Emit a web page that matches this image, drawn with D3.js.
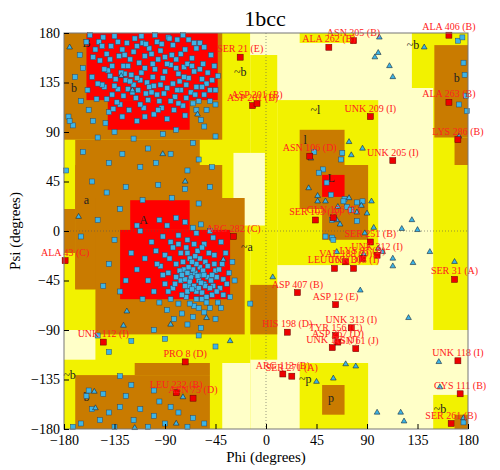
<!DOCTYPE html>
<html><head><meta charset="utf-8">
<script src="https://cdn.jsdelivr.net/npm/d3@7"></script>
<style>body{margin:0;background:#fff}text{font-family:"Liberation Serif","DejaVu Serif",serif}</style>
</head><body><div id="chart"></div>
<script>
const TITLE = '1bcc'
const TICKS = [-180, -135, -90, -45, 0, 45, 90, 135, 180]

// region rectangles [phi0, phi1, psi0, psi1], drawn in order
const generousRegions = [[-180,-14,-180,180],[-14,10,-117,160],[10,100,-31,119],[30,79,171,180],
  [130,180,130,180],[149,180,-90,130],[149,180,-180,-149],[30,91,-180,-120]]
const paleHoles = [[-29,-1,5,71],[-180,-152,-117,-90],[-39,-14,-180,-120],[-14,10,160,180]]
const allowedRegions = [[-180,-39,83,180],[-170,-59,-53,83],[-170,-39,30,60],[-152,-19,-94,30],[-170,-152,-53,30],
  [-180,-170,-20,20],[-170,-50,-180,-131],[-117,-50,-131,-120],[-14,10,-94,-49],[30,70,20,92],[50,91,-8,60],
  [150,180,85,169],[168,180,60,85],[50,70,-167,-140],[168,180,-180,-167]]
const coreRegions = [[-160,-43,119,180],[-141,-68,92,119],[-121,-68,1,28],[-130,-32,-62,1],[50,70,31,51]]

const regionLabels = [['B',-160,171],['b',-171,130],['a',-160,28],['A',-109,10],['~b',131,169],['b',170,139],
  ['~l',44,110],['l',35,83],['L',58,48],['~a',-17,-14],['~p',35,-134],['p',58,-152],['~b',155,-162],
  ['~b',-175,-131],['b',-160,-151],['~b',-23,145]]

const residues = [
  [-160,172],[-152,165],[-145,176],[-138,168],[-131,159],[-124,171],[-118,163],[-111,177],[-104,166],[-97,172],[-90,158],[-83,169],[-76,161],[-69,174],[-62,166],[-56,152],[-49,160],
  [-163,148],[-155,140],[-148,155],[-141,146],[-134,138],[-127,150],[-120,142],[-113,153],[-106,135],[-99,147],[-92,139],[-85,151],[-78,143],[-71,133],[-64,145],[-57,138],[-50,128],
  [-159,128],[-151,120],[-144,131],[-137,124],[-130,115],[-123,129],[-116,121],[-109,112],[-102,126],[-95,118],[-88,130],[-81,122],[-74,114],[-67,126],[-60,118],[-53,110],
  [-140,108],[-128,104],[-115,100],[-100,106],[-88,102],[-72,105],[-58,101],
  [-157,178],[-149,172],[-142,161],[-135,177],[-128,165],[-121,156],[-115,168],[-108,159],[-101,152],[-94,164],[-87,176],[-80,156],[-73,149],[-66,157],[-59,171],[-52,144],
  [-146,133],[-139,141],[-132,129],[-125,137],[-118,133],[-111,144],[-104,131],[-97,124],[-90,145],[-83,134],[-76,128],[-69,139],[-62,131],[-55,124],[-48,137],
  [-137,150],[-126,143],[-112,137],[-96,156],[-84,160],[-70,152],[-65,116],[-77,136],[-105,119],[-119,126],[-133,117],[-150,134],[-166,160],[-170,140],[-165,118],[-172,96],[-176,104],
  [-158,110],[-154,100],[-143,98],[-122,110],[-108,104],[-93,112],[-82,110],[-110,171],[-99,178],[-86,175],[-74,178],
  [-154,158],[-146,168],[-139,156],[-132,172],[-126,160],[-117,175],[-107,170],[-102,161],[-93,170],[-79,174],[-72,165],[-64,171],[-55,167],[-46,150],[-43,141],[-144,147],[-129,144],
  [-123,150],[-115,139],[-108,148],[-101,140],[-94,133],[-88,152],[-80,148],[-73,140],[-66,150],[-59,147],[-53,134],[-45,128],[-142,120],[-135,132],[-127,123],[-121,136],[-114,128],
  [-107,125],[-100,132],[-91,125],[-85,118],[-79,128],[-71,121],[-63,124],[-57,131],[-50,118],[-45,115],[-136,111],[-112,115],[-96,110],[-78,116],[-62,110],
  [-150,85],[-135,90],[-118,84],[-105,75],[-92,88],[-80,92],[-65,80],[-55,95],[-45,86],[-140,62],[-128,70],[-112,58],[-98,62],[-85,70],[-70,55],[-60,65],[-48,58],
  [-163,72],[-155,45],[-142,35],[-125,40],[-110,28],[-96,42],[-84,30],[-72,38],[-60,25],[-50,40],[-165,-5],[-150,10],[-130,20],[-115,5],[-175,100],[-178,55],
  [-95,10],[-88,5],[-80,12],[-72,8],[-65,3],[-58,6],[-50,0],[-92,-5],[-85,-10],[-78,-4],[-70,-8],[-62,-2],[-55,-12],[-47,-6],[-40,-10],
  [-98,-18],[-90,-22],[-83,-15],[-76,-20],[-68,-25],[-61,-18],[-54,-28],[-46,-22],[-39,-30],[-94,-32],[-87,-38],[-80,-30],[-73,-35],[-66,-40],[-59,-33],[-52,-42],[-45,-36],[-38,-44],
  [-90,-48],[-83,-52],[-76,-45],[-69,-50],[-62,-55],[-55,-48],[-48,-58],[-41,-52],[-85,-62],[-78,-66],[-71,-60],[-64,-68],[-57,-62],[-50,-70],[-43,-65],[-75,-75],[-65,-78],[-55,-74],
  [-67,-42],[-63,-38],[-60,-45],[-58,-40],[-65,-35],[-62,-30],[-70,-38],[-72,-44],[-56,-36],[-54,-50],[-68,-46],[-64,-50],[-60,-52],[-57,-56],[-66,-28],[-59,-25],[-52,-32],[-49,-45],
  [-74,-28],[-77,-36],[-80,-42],[-70,-55],[-75,-58],[-62,-62],[-53,-60],[-47,-50],[-44,-42],[-42,-35],[-51,-20],[-57,-15],[-64,-12],[-71,-15],[-78,-12],[-86,-25],[-92,-40],[-97,-30],
  [-69,-33],[-61,-41],[-58,-47],[-66,-53],[-72,-50],[-55,-40],[-50,-52],[-46,-30],[-63,-23],[-70,-20],[-75,-40],[-81,-48],[-87,-55],[-53,-65],[-60,-70],[-68,-66],[-48,-40],[-44,-55],
  [-102,-10],[-108,-25],[-112,0],[-105,-45],[-115,-35],[-120,-20],[-125,-45],[-130,-55],[-140,-30],[-145,-50],[-135,-8],[-100,-55],[-95,-65],[-88,-72],[-110,-62],[-82,-80],[-70,-85],[-58,-88],
  [-45,-80],[-38,-58],[-35,-48],[-33,-38],[-36,-20],[-30,-28],[-28,-45],[-32,-60],[-40,-70],
  [-150,-95],[-140,-110],[-120,-100],[-100,-90],[-90,-98],[-60,-95],[-45,-105],[-160,-150],[-155,-162],[-148,-172],[-140,-165],[-135,-178],[-130,-160],[-125,-150],[-118,-172],
  [-112,-162],[-105,-178],[-100,-168],[-95,-155],[-90,-175],[-85,-160],[-78,-165],[-70,-178],[-65,-170],[-55,-175],[-165,-175],[-172,-178],[-158,-145],[-145,-148],[-120,-140],[-100,-145],[-130,-132],
  [171,173],[175,176],[176,153],[177,142],[178,123],[172,115],[179,109],[43,72],[68,71],[67,65],[51,56],[47,53],[54,44],[58,33],[70,29],[69,27],[81,26],[86,27],[72,22],[76,19],[81,9],[59,10],
  [53,-5],[59,-6],[60,-8],[-14,-66],[176,-174]
]

const glycines = [[-175,167],[-167,13],[-72,45],[-92,70],[-61,106],[-129,141],[-119,128],[-124,-73],[-127,-86],[-85,-85],[-32,-100],[-153,-146],[-152,-161],[-74,-151],[-117,-179],[-80,-175],[-53,-79],[-38,-26],
  [101,176],[100,162],[97,158],[110,150],[113,140],[141,167],[172,86],[74,81],[86,75],[76,69],[40,66],[38,39],[46,32],[53,27],[46,27],[64,22],[74,30],[85,23],[94,27],[90,16],[81,17],[63,10],[66,6],[96,3],[130,10],[135,1],[121,2],
  [88,-2],[63,-19],[87,-21],[100,-16],[104,-19],[113,-25],[113,-32],[131,-29],[146,-19],[168,-28],[6,-42],[84,-54],[127,-79],[71,-121],[80,-123],[154,-119],[45,-137],[60,-134],[155,-142],[99,-165],[120,-165],[123,-173],[176,-170]]

const outliers = [['SER 21 (E)',-23,158],['ASP 201 (B)',-12,114],['ASP 201 (B)',-8,116],['ALA 262 (B)',56,167],['ASN 305 (B)',78,173],['ALA 406 (B)',163,178],
  ['ALA 263 (B)',163,117],['LYS 286 (B)',171,83],['UNK 209 (I)',93,104],['UNK 205 (I)',113,64],['ASN 106 (D)',39,68],['SER 103 (A)',44,10],['GLN 156 (E)',60,12],
  ['SER 251 (B)',93,-10],['UNK 312 (I)',99,-22],['LEU 169 (D)',61,-34],['UNK 308 (I)',78,-34],['VAL 188 (D)',71,-28],['LYS 87 (B)',86,-25],['SER 31 (A)',168,-44],
  ['ASP 407 (B)',28,-56],['ASP 12 (E)',62,-67],['HIS 198 (D)',19,-92],['UNK 313 (I)',76,-88],['TYR 156 (C)',62,-95],['ASP 267 (D)',64,-101],['UNK 115 (J)',59,-106],
  ['ASN 61 (J)',80,-107],['UNK 118 (I)',171,-118],['ARG 113 (B)',15,-130],['SER 271 (A)',23,-132],['CYS 111 (B)',173,-148],['SER 261 (B)',165,-175],
  ['ALA 43 (C)',-179,-27],['ARG 282 (C)',-29,-5],['UNK 112 (I)',-145,-101],['PRO 8 (D)',-72,-119],['LEU 232 (B)',-80,-147],['ASN 75 (D)',-65,-152]]

const margin = { top: 33, right: 32, bottom: 41, left: 64 },
  width = 500 - margin.left - margin.right,
  height = 470 - margin.top - margin.bottom

const svg = d3.select('#chart').append('svg').attr('width', 500).attr('height', 470)
const g = svg.append('g').attr('transform', `translate(${margin.left},${margin.top})`)

const x = d3.scaleLinear().domain([-180, 180]).range([0, width])
const y = d3.scaleLinear().domain([-180, 180]).range([height, 0])

const drawRects = (rects, fill) => {
  g.append('g').selectAll('rect').data(rects).join('rect')
    .attr('x', (d) => x(d[0])).attr('width', (d) => x(d[1]) - x(d[0]))
    .attr('y', (d) => y(d[3])).attr('height', (d) => y(d[2]) - y(d[3]))
    .attr('fill', fill)
}
g.append('rect').attr('width', width).attr('height', height).attr('fill', '#ffffc8')
drawRects(generousRegions, '#f2f200')
drawRects(paleHoles, '#ffffc8')
drawRects(allowedRegions, '#c97b00')
drawRects(coreRegions, '#ff0000')

// zero lines
g.append('line').attr('x1', 0).attr('x2', width).attr('y1', y(0)).attr('y2', y(0))
  .attr('stroke', '#555').attr('stroke-width', 0.6).attr('stroke-dasharray', '1,2')
g.append('line').attr('y1', 0).attr('y2', height).attr('x1', x(0)).attr('x2', x(0))
  .attr('stroke', '#555').attr('stroke-width', 0.6).attr('stroke-dasharray', '1,2')

g.append('g').selectAll('text').data(regionLabels).join('text')
  .attr('x', (d) => x(d[1])).attr('y', (d) => y(d[2]))
  .attr('font-size', 12).attr('text-anchor', 'middle').attr('dy', '0.35em').attr('fill', '#222')
  .text((d) => d[0])

g.append('g').selectAll('rect').data(residues).join('rect')
  .attr('x', (d) => x(d[0]) - 2.5).attr('y', (d) => y(d[1]) - 2.5)
  .attr('width', 5).attr('height', 5)
  .attr('fill', '#3cb4e6').attr('stroke', '#2a4a6a').attr('stroke-width', 0.5)

g.append('g').selectAll('path').data(glycines).join('path')
  .attr('transform', (d) => `translate(${x(d[0])},${y(d[1])})`)
  .attr('d', d3.symbol(d3.symbolTriangle, 14))
  .attr('fill', '#3cb4e6').attr('stroke', '#1a2a3a').attr('stroke-width', 0.6)

g.append('g').selectAll('rect').data(outliers).join('rect')
  .attr('x', (d) => x(d[1]) - 3).attr('y', (d) => y(d[2]) - 3)
  .attr('width', 6).attr('height', 6)
  .attr('fill', '#ee0000').attr('stroke', '#600').attr('stroke-width', 0.5)
g.append('g').selectAll('text').data(outliers).join('text')
  .attr('x', (d) => x(d[1])).attr('y', (d) => y(d[2]) - 5)
  .attr('text-anchor', 'middle').attr('font-size', 10).attr('fill', '#ff2020')
  .text((d) => d[0])

g.append('rect').attr('width', width).attr('height', height).attr('fill', 'none').attr('stroke', '#777')

const xAxis = g.append('g').attr('transform', `translate(0,${height})`)
  .call(d3.axisBottom(x).tickValues(TICKS).tickSize(-5).tickPadding(6))
const yAxis = g.append('g').call(d3.axisLeft(y).tickValues(TICKS).tickSize(-5).tickPadding(4))
;[xAxis, yAxis].forEach((a) => {
  a.select('.domain').remove()
  a.selectAll('text').attr('font-size', 14).attr('font-family', '"Liberation Serif",serif').attr('fill', '#000')
  a.selectAll('line').attr('stroke', '#000')
})

svg.append('text').attr('x', 265).attr('y', 26).attr('text-anchor', 'middle').attr('font-size', 22).text(TITLE)
svg.append('text').attr('x', margin.left + width / 2).attr('y', 462).attr('text-anchor', 'middle').attr('font-size', 15).text('Phi (degrees)')
svg.append('text').attr('transform', `translate(20,${margin.top + height / 2})rotate(-90)`).attr('text-anchor', 'middle').attr('font-size', 15).text('Psi (degrees)')
</script></body></html>
